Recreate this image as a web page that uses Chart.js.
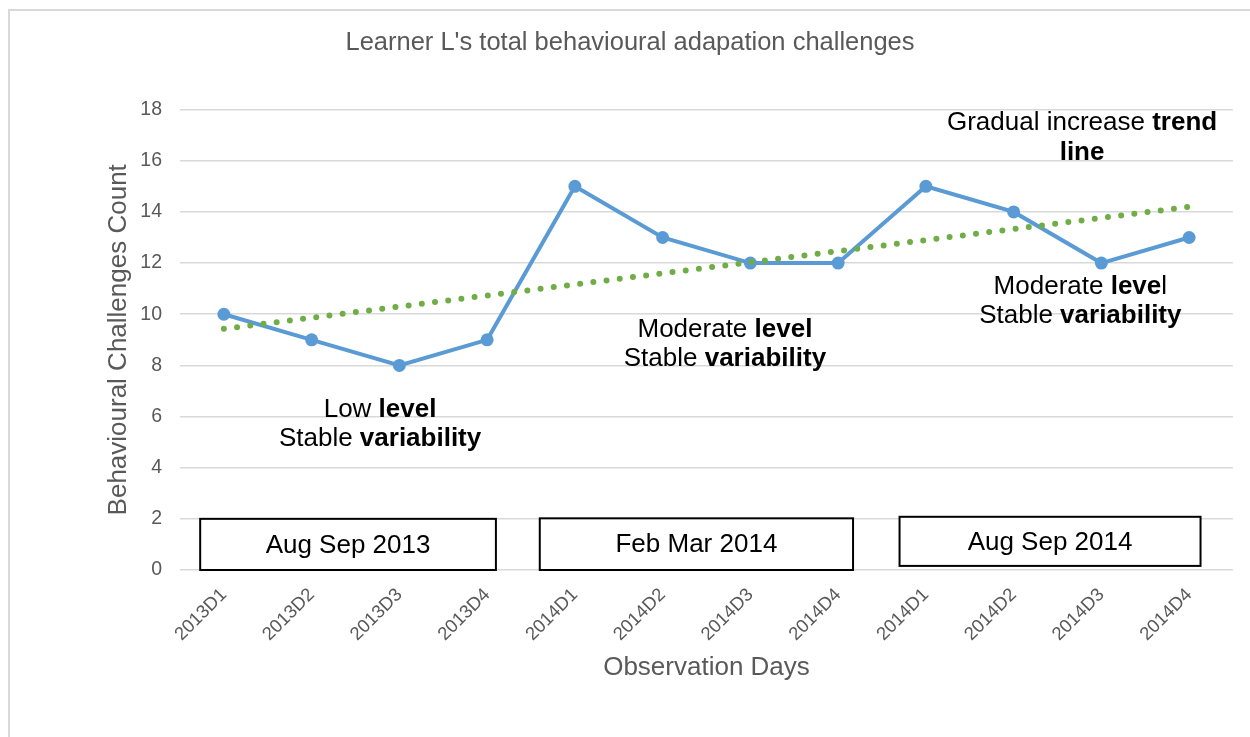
<!DOCTYPE html>
<html>
<head>
<meta charset="utf-8">
<script src="https://cdn.jsdelivr.net/npm/chart.js@4.4.1/dist/chart.umd.min.js"></script>
<style>
  body { margin: 0; background: #fff; }
  #wrap { width: 1250px; height: 737px; position: relative; }
</style>
</head>
<body>
<div id="wrap"><canvas id="chart"></canvas></div>
<script>
// data
var days = ['2013D1', '2013D2', '2013D3', '2013D4', '2014D1', '2014D2', '2014D3', '2014D4', '2014D1', '2014D2', '2014D3', '2014D4'];
var challenges = [10, 9, 8, 9, 15, 13, 12, 12, 15, 14, 12, 13];
// trend line: only the two ends, the library joins them
var trend = [9.43, null, null, null, null, null, null, null, null, null, null, 14.2];
var yTicks = [0, 2, 4, 6, 8, 10, 12, 14, 16, 18];
var periods = ['Aug Sep 2013', 'Feb Mar 2014', 'Aug Sep 2014'];

var FONT = "'Liberation Sans', Arial, sans-serif";
var GREY = '#595959';

// period boxes, in axis units (category index / count)
var boxes = [
  { text: periods[0], x0: -0.27, x1: 3.10, y0: 0, y1: 2 },
  { text: periods[1], x0: 3.60, x1: 7.17, y0: 0, y1: 2.02 },
  { text: periods[2], x0: 7.70, x1: 11.13, y0: 0.16, y1: 2.08 }
];

// notes, [text, bold] runs per line
var notes = [
  { x: 1.78, y: 5.7, lines: [[['Low ', false], ['level', true]], [['Stable ', false], ['variability', true]]] },
  { x: 5.71, y: 8.82, lines: [[['Moderate ', false], ['level', true]], [['Stable ', false], ['variability', true]]] },
  { x: 9.76, y: 10.5, lines: [[['Moderate ', false], ['leve', true], ['l', false]], [['Stable ', false], ['variability', true]]] },
  { x: 9.78, y: 16.9, lines: [[['Gradual increase ', false], ['trend', true]], [['line', true]]] }
];

function fnt(bold, size) {
  return (bold ? 'bold ' : '') + size + 'px ' + FONT;
}

var extras = {
  id: 'extras',
  beforeDraw: function(chart) {
    var ctx = chart.ctx;
    ctx.save();
    ctx.fillStyle = '#fff';
    ctx.fillRect(0, 0, chart.width, chart.height);
    ctx.strokeStyle = '#d9d9d9';
    ctx.lineWidth = 2;
    ctx.strokeRect(9, 10, chart.width + 20, chart.height + 20);
    ctx.restore();
  },
  afterDatasetsDraw: function(chart) {
    var ctx = chart.ctx, xs = chart.scales.x, ys = chart.scales.y;
    var step = xs.getPixelForValue(1) - xs.getPixelForValue(0);
    function px(v) { return xs.getPixelForValue(0) + v * step; }
    ctx.save();
    // boxes
    boxes.forEach(function(b) {
      var l = px(b.x0), r = px(b.x1), t = ys.getPixelForValue(b.y1), btm = ys.getPixelForValue(b.y0);
      ctx.fillStyle = '#fff';
      ctx.fillRect(l, t, r - l, btm - t);
      ctx.strokeStyle = '#000';
      ctx.lineWidth = 2;
      ctx.strokeRect(l, t, r - l, btm - t);
      ctx.fillStyle = '#000';
      ctx.font = fnt(false, 26);
      ctx.textAlign = 'center';
      ctx.textBaseline = 'middle';
      ctx.fillText(b.text, (l + r) / 2, (t + btm) / 2 + 1);
    });
    // notes
    ctx.textBaseline = 'middle';
    ctx.textAlign = 'left';
    ctx.fillStyle = '#000';
    notes.forEach(function(n) {
      var cx = px(n.x), cy = ys.getPixelForValue(n.y);
      var lh = 29.5;
      var top = cy - (n.lines.length - 1) * lh / 2;
      n.lines.forEach(function(runs, i) {
        var w = 0;
        runs.forEach(function(r) { ctx.font = fnt(r[1], 26); w += ctx.measureText(r[0]).width; });
        var x = cx - w / 2;
        runs.forEach(function(r) {
          ctx.font = fnt(r[1], 26);
          ctx.fillText(r[0], x, top + i * lh);
          x += ctx.measureText(r[0]).width;
        });
      });
    });
    ctx.restore();
  }
};

new Chart(document.getElementById('chart'), {
  type: 'line',
  data: {
    labels: days,
    datasets: [
      {
        label: 'Linear trend',
        data: trend,
        spanGaps: true,
        borderColor: '#70ad47',
        borderWidth: 6,
        borderDash: [0, 13.3],
        borderCapStyle: 'round',
        pointRadius: 0,
        fill: false,
        order: 0
      },
      {
        label: 'Challenges',
        data: challenges,
        borderColor: '#5b9bd5',
        backgroundColor: '#5b9bd5',
        borderWidth: 4,
        pointRadius: 6.5,
        pointBorderWidth: 0,
        pointBackgroundColor: '#5b9bd5',
        tension: 0,
        fill: false,
        order: 1
      }
    ]
  },
  options: {
    responsive: true,
    maintainAspectRatio: false,
    animation: false,
    layout: { padding: { left: 27, right: 17, top: 9, bottom: 0 } },
    plugins: {
      legend: { display: false },
      tooltip: { enabled: false },
      title: {
        display: true,
        text: "Learner L's total behavioural adapation challenges",
        color: GREY,
        font: { family: FONT, size: 25.5, weight: 'normal' },
        padding: { top: 19, bottom: 51 }
      }
    },
    scales: {
      x: {
        offset: true,
        grid: { display: false },
        border: { display: false },
        ticks: {
          color: GREY,
          font: { family: FONT, size: 18.5 },
          minRotation: 45,
          maxRotation: 45,
          padding: 6,
          autoSkip: false
        },
        title: {
          display: true,
          text: 'Observation Days',
          color: GREY,
          font: { family: FONT, size: 26 },
          padding: { top: 0, bottom: 54 }
        },
        afterFit: function(s) { s.height = 167; }
      },
      y: {
        min: 0,
        max: 18,
        afterBuildTicks: function(s) { s.ticks = yTicks.map(function(v) { return { value: v }; }); },
        grid: { color: '#d9d9d9', lineWidth: 1.5, drawTicks: false },
        border: { display: false },
        ticks: {
          color: GREY,
          font: { family: FONT, size: 19.5 },
          padding: 18
        },
        title: {
          display: true,
          text: 'Behavioural Challenges Count',
          color: GREY,
          font: { family: FONT, size: 26 },
          padding: { top: 76, bottom: 4 }
        },
        afterFit: function(s) { s.width = 153; }
      }
    }
  },
  plugins: [extras]
});
</script>
</body>
</html>
